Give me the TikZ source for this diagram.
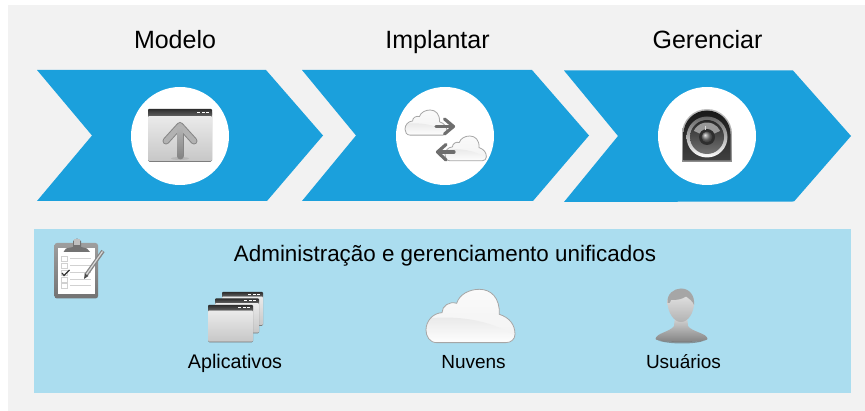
\documentclass[tikz,border=0pt]{standalone}
\usepackage{fontspec}
\setmainfont{Liberation Sans}
\usetikzlibrary{shapes.geometric,calc}
\definecolor{pagegray}{HTML}{F2F2F2}
\definecolor{chevblue}{HTML}{1BA0DC}
\definecolor{panelblue}{HTML}{ABDDEF}
\tikzset{
  chevron/.style={fill=chevblue,draw=none},
  disc/.style={circle,fill=white,draw=none,minimum size=98pt,inner sep=0pt},
  headlabel/.style={anchor=base,font=\fontsize{25}{29}\selectfont,text=black,inner sep=0pt},
  itemlabel/.style={anchor=base,font=\fontsize{19}{23}\selectfont,text=black,inner sep=0pt},
  paneltitle/.style={anchor=base,font=\fontsize{22.4}{26}\selectfont,text=black,inner sep=0pt},
  transferline/.style={draw=black!57,line width=3.2pt,line cap=round,line join=round}
}
% window icon: left, top, width, height, bar height
\newcommand{\winicon}[5]{%
  \begin{scope}[shift={(#1,#2)}]
    \fill[black!55,rounded corners=1.5pt] (0,2) rectangle (#3,#4);
    \shade[top color=black!8,bottom color=black!22,rounded corners=1.2pt] (0,#5) rectangle (#3,#4-.8);
    \shade[top color=black!82,bottom color=black!62,rounded corners=.8pt] (0,0) rectangle (#3,#5);
    \fill[white] (#3-10.5,#5*.4) rectangle (#3-7.5,#5*.62);
    \fill[white] (#3-6,#5*.4) rectangle (#3-3,#5*.62);
    \fill[white] (#3-15,#5*.4) rectangle (#3-12,#5*.62);
  \end{scope}}
% cloud icon: left, top, scale
\newcommand{\cloudicon}[3]{%
  \begin{scope}[shift={(#1,#2)},scale=#3]
    \def\cloudpath{(32,160) .. controls (10,160) and (0,140) .. (0,122)
      .. controls (0,95) and (20,72) .. (48,70)
      .. controls (48,50) and (70,35) .. (92,42)
      .. controls (100,15) and (130,0) .. (160,0)
      .. controls (195,0) and (222,25) .. (220,75)
      .. controls (250,85) and (267,105) .. (267,135)
      .. controls (267,150) and (255,160) .. (240,160) -- cycle}
    \shade[top color=black!2,bottom color=black!5] \cloudpath;
    \begin{scope}
      \clip \cloudpath;
      \shade[top color=black!9,bottom color=white] (0,88) .. controls (90,78) and (190,90) .. (267,140) -- (267,165) -- (0,165) -- cycle;
    \end{scope}
    \draw[black!35,line width=.8pt] \cloudpath;
  \end{scope}}
\begin{document}
\begin{tikzpicture}[x=1pt,y=-1pt]
\useasboundingbox (0,0) rectangle (865,411);
\fill[white] (0,0) rectangle (865,411);
\fill[pagegray] (8,5) rectangle (865,411);

% chevrons
\fill[chevron] (37,70) -- (266,70) -- (323,135.5) -- (267,201) -- (37,201) -- (92,135.5) -- cycle;
\fill[chevron] (302,70) -- (532,70) -- (589,135.5) -- (533,201) -- (302,201) -- (356,135.5) -- cycle;
\fill[chevron] (564,70.5) -- (793,70.5) -- (851,136) -- (794,201.5) -- (564,202) -- (618,136) -- cycle;

\node[headlabel] (h1) at (175,48.7) {Modelo};
\node[headlabel] (h2) at (437.5,48.7) {Implantar};
\node[headlabel] (h3) at (707.5,48.7) {Gerenciar};

\node[disc] (d1) at (180,136) {};
\node[disc] (d2) at (445,136) {};
\node[disc] (d3) at (707,136) {};

% upload window
\winicon{148}{109}{64}{53}{7}
\fill[black!35,opacity=.5] (180,158.5) ellipse (9 and 1.5);
\draw[black!48,line width=7pt,line cap=round,line join=round] (166,141) -- (180,125.5) -- (194,141);
\draw[black!48,line width=7pt,line cap=round] (180,127) -- (180,156);
\draw[black!30,line width=5pt,line cap=round,line join=round] (166,141) -- (180,125.5) -- (194,141);
\shade[top color=black!30,bottom color=black!48] (177.5,128) rectangle (182.5,157);

% transfer clouds
\cloudicon{405}{110}{.157}
\cloudicon{445}{136}{.155}
\draw[transferline] (436,126.5) -- (453,126.5);
\draw[transferline] (444.5,119) -- (453.5,126.5) -- (444.5,134);
\draw[transferline] (454,152) -- (438,152);
\draw[transferline] (446,144.5) -- (437.5,152) -- (446,160);

% gauge
\begin{scope}
  \shade[top color=black!25,bottom color=black!45] (682,162) -- (682,134) arc[start angle=180,end angle=360,radius=25] -- (732,162) -- cycle;
  \shade[top color=black!90,bottom color=black!75] (683.5,160.5) -- (683.5,134) arc[start angle=180,end angle=360,radius=23.5] -- (730.5,160.5) -- cycle;
  \shade[top color=black!60,bottom color=white] (707,137) circle (20.5);
  \shade[top color=black!85,bottom color=black!55] (707,137) circle (17);
  \fill[black!40] (707,137) ++(205:14.5) arc[start angle=205,end angle=335,radius=14.5] -- (707,137) -- cycle;
  \fill[black!82] (707,137) circle (8);
  \shade[ball color=black!50] (707,137) circle (5.5);
  \draw[white!85!black,line width=.9pt] (705,130) -- (705,126);
\end{scope}

% panel
\fill[panelblue] (34,229) rectangle (851,393);
\node[paneltitle] (t) at (445,261.5) {Administração e gerenciamento unificados};

% clipboard
\shade[top color=black!38,bottom color=black!55,rounded corners=2.5pt] (54.5,243) rectangle (98,298.5);
\fill[white] (58,248) rectangle (95,294);
\foreach \yy in {258.5,265.5,272.5,279.5,286}{
  \draw[black!18,line width=.5pt] (61.5,\yy-2.5) rectangle (67,\yy+2.5);
  \draw[black!18,line width=.7pt] (70,\yy-.5) -- (91,\yy-.5);
}
\draw[black!80,line width=1.1pt] (62,273) -- (64,275.5) -- (69.5,270);
\fill[black!55] (63.5,252) -- (66,248.5) -- (73,247) -- (73,241) -- (77,238.5) -- (81,241) -- (81,247) -- (87,248.5) -- (90,252) -- cycle;
\fill[black!25] (74,239.5) rectangle (80,245);
\draw[black!48,line width=3.8pt] (86,275) -- (103,251);
\draw[black!15,line width=1.2pt] (86,275) -- (102.5,251.5);
\fill[black!70] (84,279) -- (84.8,273.5) -- (88.5,276) -- cycle;

% stacked windows
\winicon{222}{292}{41}{34}{4.5}
\winicon{215}{298.5}{44}{35}{4.5}
\winicon{208}{305}{45}{37.5}{5.5}
\node[itemlabel,font=\fontsize{19.7}{23}\selectfont] (l1) at (235,369) {Aplicativos};

% big cloud
\cloudicon{426}{289.3}{.3333}
\node[itemlabel] (l2) at (473.5,369) {Nuvens};

% user
\shade[top color=black!14,bottom color=black!50] (655.5,339) .. controls (656,333) and (670,332) .. (674,326) -- (675,316) -- (687,316) -- (688,326) .. controls (692,332) and (707,333) .. (707.5,339) .. controls (706,343) and (658,343) .. (655.5,339) -- cycle;
\fill[black!55,opacity=.7] (658,340.5) .. controls (670,344.5) and (695,344.5) .. (705,340.5) .. controls (695,342) and (670,342) .. (658,340.5) -- cycle;
\shade[top color=black!8,bottom color=black!30] (667.5,300) .. controls (667.5,296) and (674,289) .. (681,289) .. controls (688,289) and (694.5,296) .. (694,303) .. controls (694,313) and (688,322) .. (681,322) .. controls (674,322) and (668,313) .. (667.5,303) -- cycle;
\fill[black!35] (667.5,303) .. controls (666.5,294) and (674,288.5) .. (681,288.5) .. controls (689,288.5) and (695,295) .. (694,305) .. controls (693,301) and (688,298) .. (686,296.5) .. controls (681,300) and (675,300) .. (671,300) .. controls (670,303) and (669,304) .. (667.5,303) -- cycle;
\node[itemlabel] (l3) at (683.5,369) {Usuários};
\end{tikzpicture}
\end{document}
